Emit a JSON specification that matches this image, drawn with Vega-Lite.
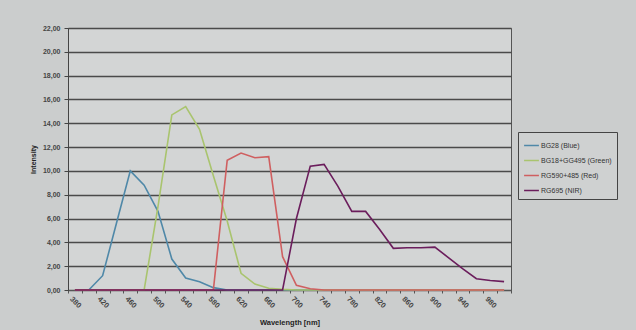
{
  "$schema": "https://vega.github.io/schema/vega-lite/v6.json",
  "width": 443,
  "height": 262,
  "autosize": "none",
  "padding": {"left": 68, "top": 28, "right": 125, "bottom": 40},
  "background": "#cbcdcd",
  "config": {
    "font": "Liberation Sans",
    "view": {"fill": "#d3d5d5", "stroke": "#555555", "strokeWidth": 1}
  },
  "data": {
    "values": [
      {"wl": 380, "BG28 (Blue)": 0, "BG18+GG495 (Green)": 0, "RG590+485 (Red)": 0, "RG695 (NIR)": 0},
      {"wl": 400, "BG28 (Blue)": 0, "BG18+GG495 (Green)": 0, "RG590+485 (Red)": 0, "RG695 (NIR)": 0},
      {"wl": 420, "BG28 (Blue)": 1.2, "BG18+GG495 (Green)": 0, "RG590+485 (Red)": 0, "RG695 (NIR)": 0},
      {"wl": 440, "BG28 (Blue)": 5.6, "BG18+GG495 (Green)": 0, "RG590+485 (Red)": 0, "RG695 (NIR)": 0},
      {"wl": 460, "BG28 (Blue)": 10.0, "BG18+GG495 (Green)": 0, "RG590+485 (Red)": 0, "RG695 (NIR)": 0},
      {"wl": 480, "BG28 (Blue)": 8.8, "BG18+GG495 (Green)": 0, "RG590+485 (Red)": 0, "RG695 (NIR)": 0},
      {"wl": 500, "BG28 (Blue)": 6.6, "BG18+GG495 (Green)": 7.0, "RG590+485 (Red)": 0, "RG695 (NIR)": 0},
      {"wl": 520, "BG28 (Blue)": 2.6, "BG18+GG495 (Green)": 14.7, "RG590+485 (Red)": 0, "RG695 (NIR)": 0},
      {"wl": 540, "BG28 (Blue)": 1.0, "BG18+GG495 (Green)": 15.4, "RG590+485 (Red)": 0, "RG695 (NIR)": 0},
      {"wl": 560, "BG28 (Blue)": 0.7, "BG18+GG495 (Green)": 13.5, "RG590+485 (Red)": 0, "RG695 (NIR)": 0},
      {"wl": 580, "BG28 (Blue)": 0.2, "BG18+GG495 (Green)": 9.6, "RG590+485 (Red)": 0, "RG695 (NIR)": 0},
      {"wl": 600, "BG28 (Blue)": 0, "BG18+GG495 (Green)": 5.8, "RG590+485 (Red)": 10.9, "RG695 (NIR)": 0},
      {"wl": 620, "BG28 (Blue)": 0, "BG18+GG495 (Green)": 1.4, "RG590+485 (Red)": 11.5, "RG695 (NIR)": 0},
      {"wl": 640, "BG28 (Blue)": 0, "BG18+GG495 (Green)": 0.5, "RG590+485 (Red)": 11.1, "RG695 (NIR)": 0},
      {"wl": 660, "BG28 (Blue)": 0, "BG18+GG495 (Green)": 0.15, "RG590+485 (Red)": 11.2, "RG695 (NIR)": 0},
      {"wl": 680, "BG28 (Blue)": 0, "BG18+GG495 (Green)": 0.05, "RG590+485 (Red)": 2.8, "RG695 (NIR)": 0},
      {"wl": 700, "BG28 (Blue)": 0, "BG18+GG495 (Green)": 0, "RG590+485 (Red)": 0.4, "RG695 (NIR)": 6.0},
      {"wl": 720, "BG28 (Blue)": 0, "BG18+GG495 (Green)": 0, "RG590+485 (Red)": 0.1, "RG695 (NIR)": 10.4},
      {"wl": 740, "BG28 (Blue)": 0, "BG18+GG495 (Green)": 0, "RG590+485 (Red)": 0, "RG695 (NIR)": 10.55},
      {"wl": 760, "BG28 (Blue)": 0, "BG18+GG495 (Green)": 0, "RG590+485 (Red)": 0, "RG695 (NIR)": 8.7},
      {"wl": 780, "BG28 (Blue)": 0, "BG18+GG495 (Green)": 0, "RG590+485 (Red)": 0, "RG695 (NIR)": 6.6},
      {"wl": 800, "BG28 (Blue)": 0, "BG18+GG495 (Green)": 0, "RG590+485 (Red)": 0, "RG695 (NIR)": 6.6},
      {"wl": 820, "BG28 (Blue)": 0, "BG18+GG495 (Green)": 0, "RG590+485 (Red)": 0, "RG695 (NIR)": 5.1},
      {"wl": 840, "BG28 (Blue)": 0, "BG18+GG495 (Green)": 0, "RG590+485 (Red)": 0, "RG695 (NIR)": 3.5},
      {"wl": 860, "BG28 (Blue)": 0, "BG18+GG495 (Green)": 0, "RG590+485 (Red)": 0, "RG695 (NIR)": 3.55},
      {"wl": 880, "BG28 (Blue)": 0, "BG18+GG495 (Green)": 0, "RG590+485 (Red)": 0, "RG695 (NIR)": 3.55},
      {"wl": 900, "BG28 (Blue)": 0, "BG18+GG495 (Green)": 0, "RG590+485 (Red)": 0, "RG695 (NIR)": 3.6},
      {"wl": 920, "BG28 (Blue)": 0, "BG18+GG495 (Green)": 0, "RG590+485 (Red)": 0, "RG695 (NIR)": 2.7},
      {"wl": 940, "BG28 (Blue)": 0, "BG18+GG495 (Green)": 0, "RG590+485 (Red)": 0, "RG695 (NIR)": 1.8},
      {"wl": 960, "BG28 (Blue)": 0, "BG18+GG495 (Green)": 0, "RG590+485 (Red)": 0, "RG695 (NIR)": 0.95},
      {"wl": 980, "BG28 (Blue)": 0, "BG18+GG495 (Green)": 0, "RG590+485 (Red)": 0, "RG695 (NIR)": 0.8},
      {"wl": 1000, "BG28 (Blue)": 0, "BG18+GG495 (Green)": 0, "RG590+485 (Red)": 0, "RG695 (NIR)": 0.7}
    ]
  },
  "transform": [
    {"fold": ["BG28 (Blue)", "BG18+GG495 (Green)", "RG590+485 (Red)", "RG695 (NIR)"], "as": ["series", "v"]}
  ],
  "mark": {"type": "line", "strokeWidth": 1.6},
  "encoding": {
    "x": {
      "field": "wl",
      "type": "quantitative",
      "scale": {"domain": [370, 1010], "nice": false, "zero": false},
      "axis": {
        "title": "Wavelength [nm]",
        "titleFontSize": 7.5,
        "titleFontWeight": "bold",
        "titleColor": "#222222",
        "titlePadding": 10,
        "values": [370, 390, 410, 430, 450, 470, 490, 510, 530, 550, 570, 590, 610, 630, 650, 670, 690, 710, 730, 750, 770, 790, 810, 830, 850, 870, 890, 910, 930, 950, 970, 990, 1010],
        "labelExpr": "(datum.value + 10 - 380) % 40 == 0 && datum.value < 1000 ? '' + (datum.value + 10) : ''",
        "labelOffset": 6.9,
        "labelAngle": 45,
        "labelAlign": "center",
        "labelBaseline": "middle",
        "labelPadding": 9,
        "labelFontSize": 7.5,
        "labelFontWeight": "bold",
        "labelColor": "#444444",
        "labelOverlap": false,
        "labelBound": false,
        "labelFlush": false,
        "grid": false,
        "domainColor": "#555555",
        "tickColor": "#555555",
        "tickSize": 3
      }
    },
    "y": {
      "field": "v",
      "type": "quantitative",
      "scale": {"domain": [0, 22], "nice": false},
      "axis": {
        "title": "Intensity",
        "titleFontSize": 7,
        "titleFontWeight": "bold",
        "titleColor": "#222222",
        "titlePadding": 6,
        "values": [0, 2, 4, 6, 8, 10, 12, 14, 16, 18, 20, 22],
        "labelExpr": "replace(format(datum.value, '.2f'), '.', ',')",
        "labelFontSize": 7,
        "labelFontWeight": "bold",
        "labelColor": "#444444",
        "labelPadding": 4,
        "gridColor": "#4a4a4a",
        "gridWidth": 1.3,
        "domainColor": "#444444",
        "tickColor": "#444444",
        "tickSize": 4
      }
    },
    "color": {
      "field": "series",
      "type": "nominal",
      "sort": ["BG28 (Blue)", "BG18+GG495 (Green)", "RG590+485 (Red)", "RG695 (NIR)"],
      "scale": {
        "domain": ["BG28 (Blue)", "BG18+GG495 (Green)", "RG590+485 (Red)", "RG695 (NIR)"],
        "range": ["#4f88a8", "#a9c46e", "#cf5f60", "#6b1d5c"]
      },
      "legend": {
        "title": null,
        "orient": "none",
        "legendX": 450,
        "legendY": 104,
        "symbolType": "stroke",
        "symbolSize": 220,
        "symbolStrokeWidth": 1.5,
        "labelFontSize": 7,
        "labelColor": "#333333",
        "labelOffset": 1,
        "rowPadding": 3,
        "padding": 5,
        "strokeColor": "#444444",
        "fillColor": "#cfd1d1"
      }
    },
    "order": {"field": "series"}
  }
}
